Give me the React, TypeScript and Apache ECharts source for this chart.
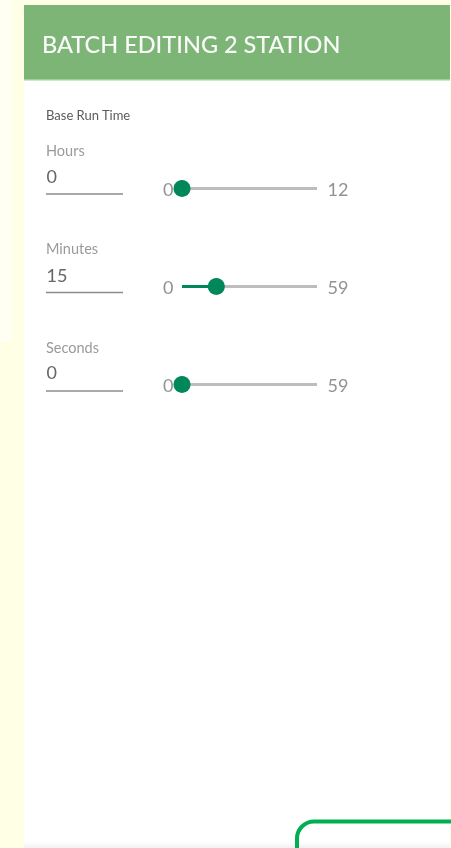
import React, { useEffect, useRef } from "react";
import * as echarts from "echarts";

const titleText = "BATCH EDITING 2 STATION";
const sectionLabel = "Base Run Time";
const sliderNames = ["Hours", "Minutes", "Seconds"];
const sliderMin = [0, 0, 0];
const sliderMax = [12, 59, 59];
const sliderValues = [0, 15, 0];

const GREEN = "#00875a";
const FONT = "Lato, 'Open Sans', sans-serif";

export default function App() {
  const ref = useRef<HTMLDivElement>(null);

  useEffect(() => {
    if (!ref.current) return;
    const chart = echarts.init(ref.current, undefined, { renderer: "svg" });

    const rowSliderY = [188.5, 286.5, 384.5];
    const rowLabelY = [150, 248, 347];
    const rowValueY = [176, 275, 372];
    const rowLineY = [194, 292.5, 391];

    const grids: any[] = [];
    const xAxes: any[] = [];
    const yAxes: any[] = [];
    const series: any[] = [];
    const elements: any[] = [
      { type: "rect", z: -10, shape: { x: 0, y: 0, width: 451, height: 848 }, style: { fill: "#ffffe6" } },
      { type: "rect", z: -9, shape: { x: 0, y: 0, width: 12, height: 342 }, style: { fill: "#fffff4" } },
      { type: "rect", z: -8, shape: { x: 24, y: 5, width: 426, height: 843 }, style: { fill: "#ffffff" } },
      {
        type: "rect",
        z: -7,
        shape: { x: 24, y: 842, width: 426, height: 6 },
        style: {
          fill: new echarts.graphic.LinearGradient(0, 0, 0, 1, [
            { offset: 0, color: "#ffffff" },
            { offset: 1, color: "#f1f1f1" },
          ]),
        },
      },
      { type: "rect", z: -6, shape: { x: 24, y: 5, width: 426, height: 75 }, style: { fill: "#7db577" } },
      { type: "rect", z: -5, shape: { x: 24, y: 79, width: 426, height: 1.5 }, style: { fill: "#a2cd9d" } },
      {
        type: "text",
        z: 1,
        style: { text: titleText, x: 42, y: 44, font: `500 23.5px ${FONT}`, fill: "#fafafa", verticalAlign: "middle" },
      },
      {
        type: "text",
        z: 1,
        style: { text: sectionLabel, x: 46, y: 115, font: `13px ${FONT}`, fill: "#5a5a5a", verticalAlign: "middle" },
      },
      {
        type: "rect",
        z: 1,
        shape: { x: 297, y: 821.5, width: 220, height: 120, r: 17 },
        style: { fill: "none", stroke: "#00b050", lineWidth: 4 },
      },
    ];

    sliderNames.forEach((name, i) => {
      const y = rowSliderY[i];
      elements.push(
        {
          type: "text",
          z: 1,
          style: { text: name, x: 46, y: rowLabelY[i], font: `14.5px ${FONT}`, fill: "#9a9a9a", verticalAlign: "middle" },
        },
        {
          type: "text",
          z: 1,
          style: {
            text: String(sliderValues[i]),
            x: 46.5,
            y: rowValueY[i],
            font: `18px ${FONT}`,
            fill: "#666666",
            verticalAlign: "middle",
          },
        },
        {
          type: "rect",
          z: 1,
          shape: { x: 46, y: rowLineY[i] - 0.75, width: 77, height: 1.5 },
          style: { fill: "#8c8c8c" },
        }
      );

      grids.push({ left: 182, width: 135, top: y - 10, height: 20, containLabel: false });
      xAxes.push({ type: "value", gridIndex: i, min: sliderMin[i], max: sliderMax[i], show: false });
      yAxes.push({ type: "value", gridIndex: i, min: -1, max: 1, show: false });

      series.push(
        {
          type: "line",
          xAxisIndex: i,
          yAxisIndex: i,
          z: 2,
          symbol: "none",
          silent: true,
          lineStyle: { color: "#bdbdbd", width: 3 },
          data: [
            [sliderMin[i], 0],
            [sliderMax[i], 0],
          ],
        },
        {
          type: "line",
          xAxisIndex: i,
          yAxisIndex: i,
          z: 3,
          symbol: "none",
          silent: true,
          lineStyle: { color: GREEN, width: 3 },
          data: [
            [sliderMin[i], 0],
            [sliderValues[i], 0],
          ],
        },
        {
          type: "scatter",
          xAxisIndex: i,
          yAxisIndex: i,
          z: 4,
          symbolSize: 1,
          silent: true,
          itemStyle: { color: "rgba(0,0,0,0)" },
          label: {
            show: true,
            fontFamily: FONT,
            fontSize: 18,
            color: "#777777",
            formatter: (p: any) => String(p.value[0]),
          },
          data: [
            { value: [sliderMin[i], 0], label: { position: "left", distance: 8 } },
            { value: [sliderMax[i], 0], label: { position: "right", distance: 10 } },
          ],
        },
        {
          type: "scatter",
          xAxisIndex: i,
          yAxisIndex: i,
          z: 5,
          symbol: "circle",
          symbolSize: 17,
          silent: true,
          itemStyle: { color: GREEN, opacity: 1 },
          data: [[sliderValues[i], 0]],
        }
      );
    });

    chart.setOption({
      animation: false,
      graphic: { elements },
      grid: grids,
      xAxis: xAxes,
      yAxis: yAxes,
      series,
    });

    return () => chart.dispose();
  }, []);

  return (
    <div
      ref={ref}
      style={{ position: "fixed", left: 0, top: 0, width: 451, height: 848 }}
    />
  );
}
